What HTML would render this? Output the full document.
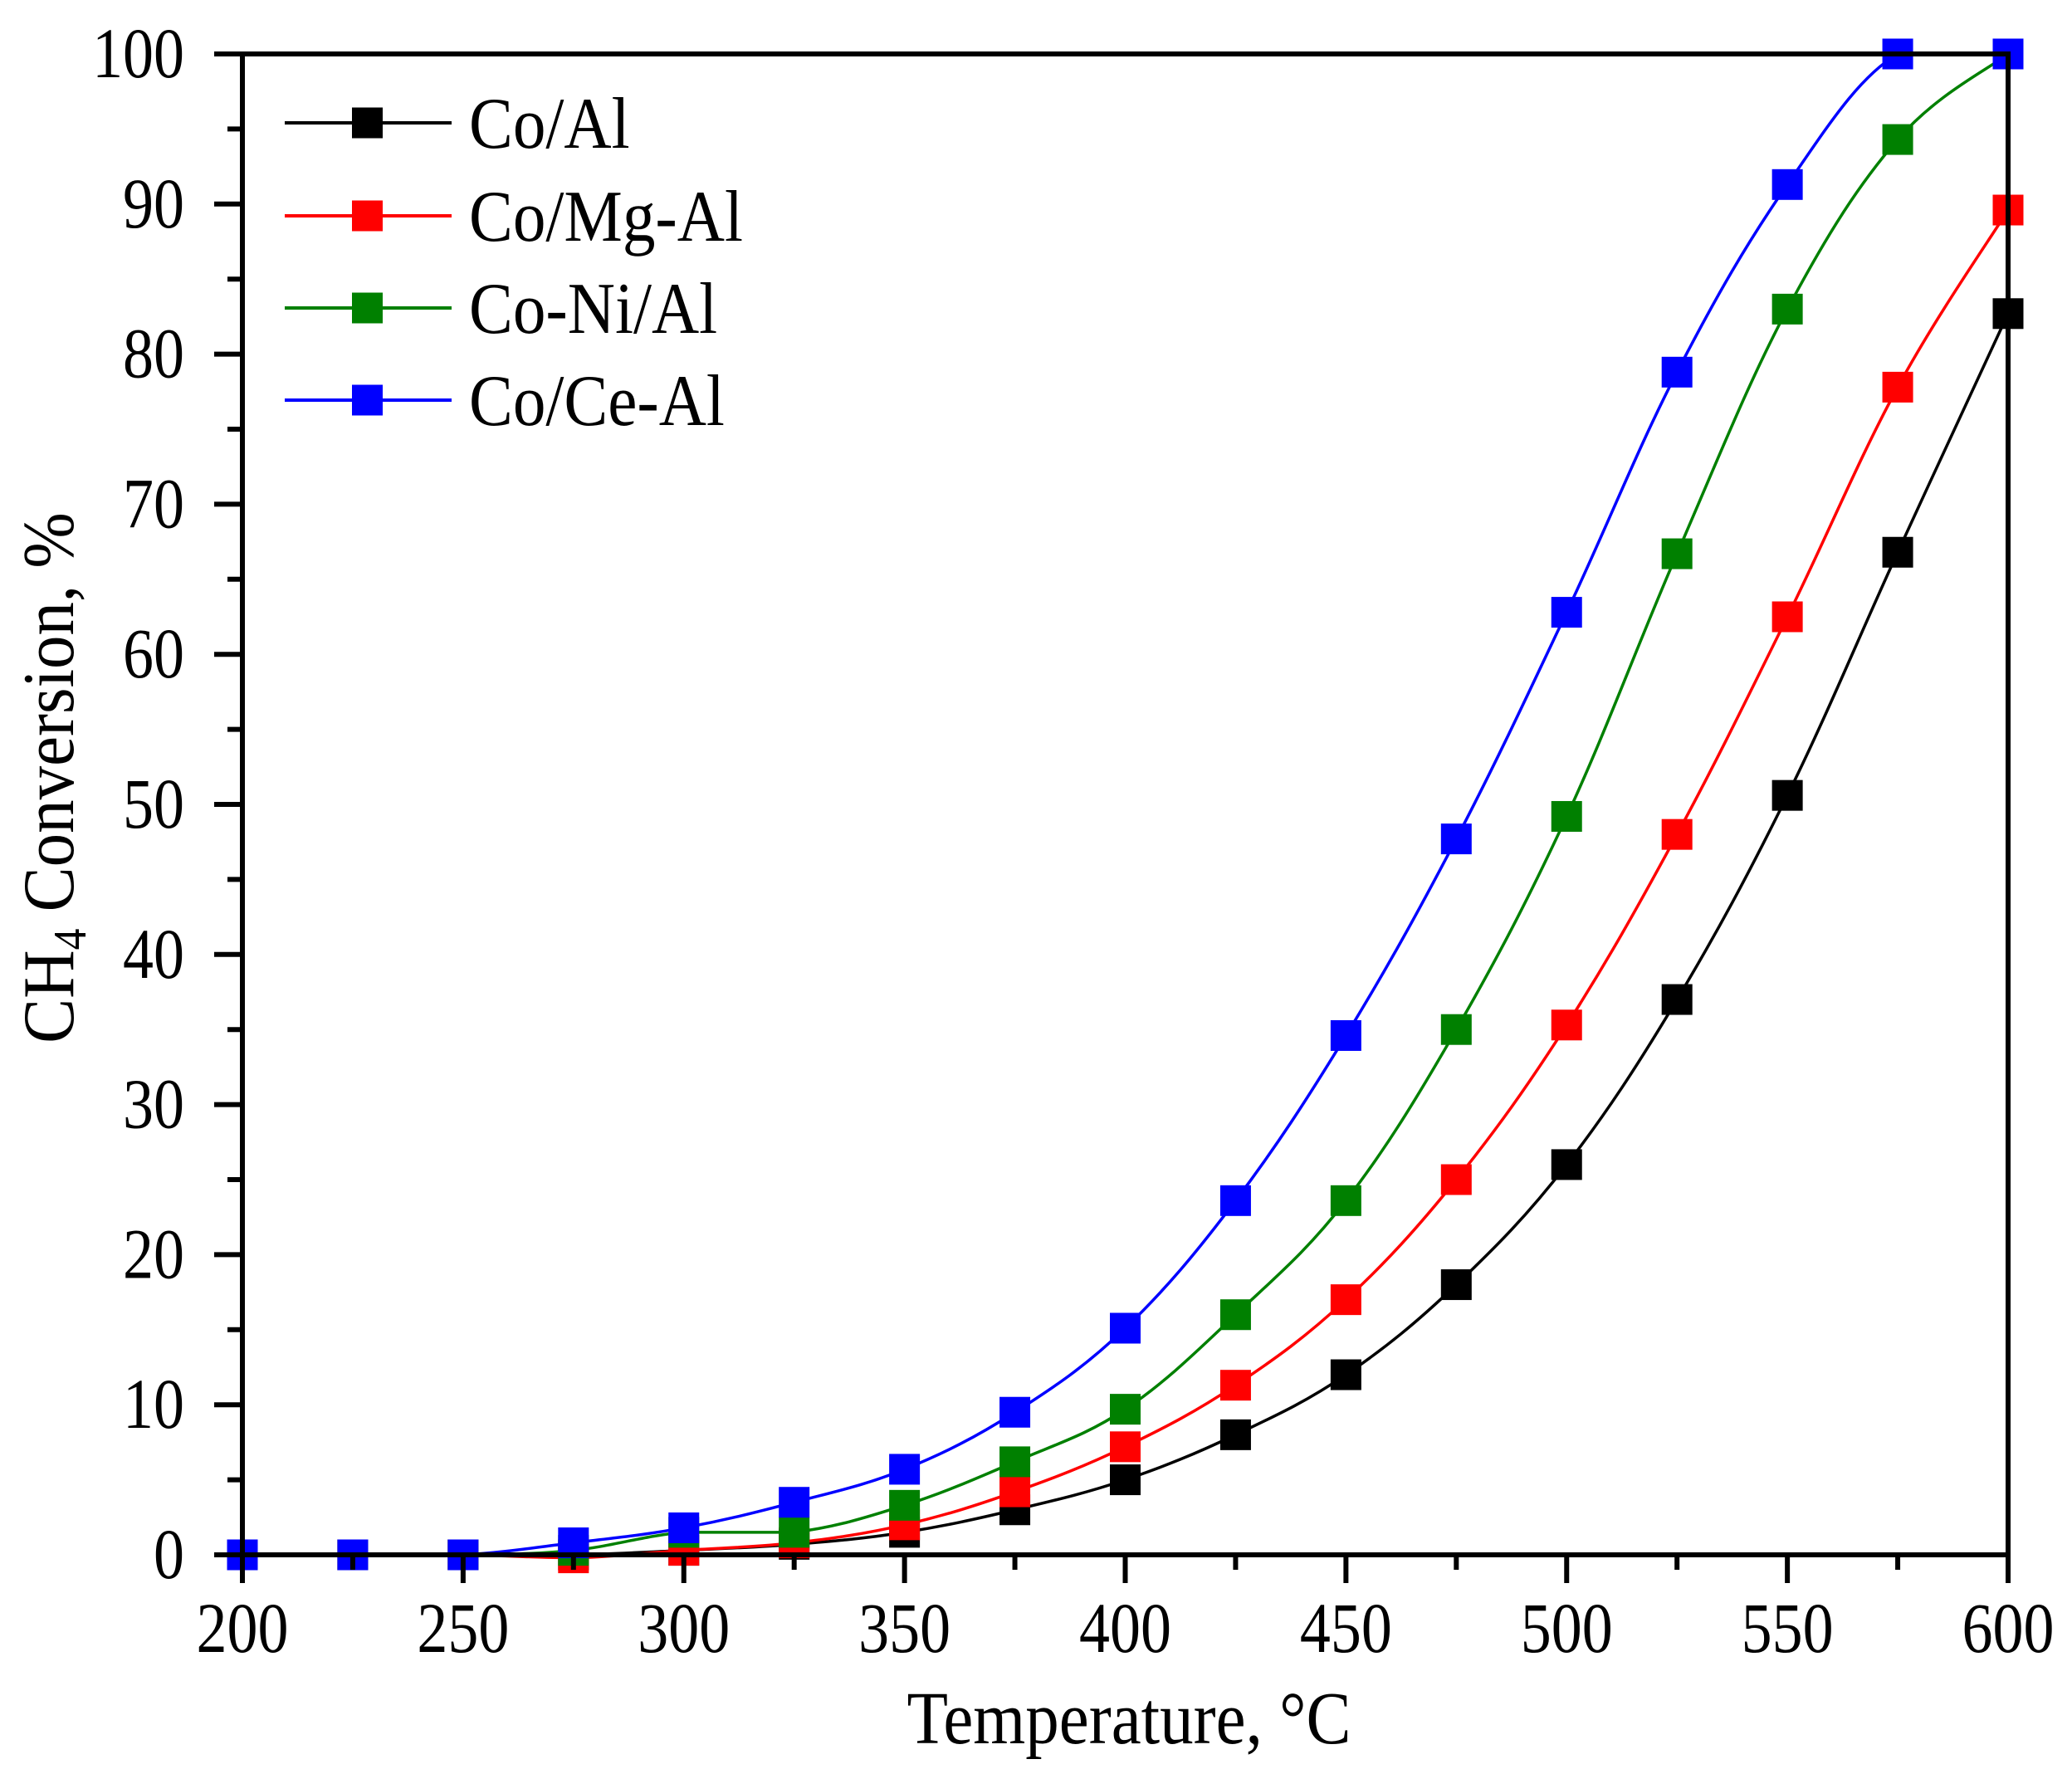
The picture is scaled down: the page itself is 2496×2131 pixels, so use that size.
<!DOCTYPE html>
<html><head><meta charset="utf-8"><style>
html,body{margin:0;padding:0;background:#fff;}
svg text{font-family:"Liberation Serif",serif;fill:#000;}
</style></head><body>
<svg id="s" width="2496" height="2126" viewBox="0 0 2496 2126" xmlns="http://www.w3.org/2000/svg"></svg>
<script>
const s=document.getElementById('s');
const R=2419;
const X=v=>292+(v-200)*(R-292)/400;
const Y=v=>1873-v*(1873-65)/100;
const T=(x,y,fs,sx,anchor,txt)=>`<text transform="translate(${x},${y}) scale(${sx},1)" font-size="${fs}" text-anchor="${anchor}">${txt}</text>`;
let h='';
const xs=[200,225,250,275,300,325,350,375,400,425,450,475,500,525,550,575,600];
const data=[
['#000',[0,0,0,0,0.3,0.7,1.5,3,5,8,12,18,26,37,50.6,66.8,82.7]],
['#f00',[0,0,0,-0.2,0.3,0.8,2,4.2,7.2,11.3,17,25,35.3,48,62.5,77.8,89.6]],
['#008000',[0,0,0,0.3,1.5,1.5,3.3,6.2,9.7,16,23.6,35,49.2,66.7,83,94.3,100]],
['#00f',[0,0,0,0.8,1.8,3.5,5.7,9.5,15.1,23.6,34.6,47.7,62.8,78.8,91.3,100,100]]];
const cl=(v,a,b)=>Math.max(Math.min(a,b),Math.min(Math.max(a,b),v));
for(const [c,ys] of data){
  const p=xs.map((x,i)=>[X(x),Y(ys[i])]);
  let d='M'+p[0][0]+','+p[0][1];
  for(let i=0;i<p.length-1;i++){
    const p0=p[Math.max(0,i-1)],p1=p[i],p2=p[i+1],p3=p[Math.min(p.length-1,i+2)];
    const t=0.18;
    const c1y=cl(p1[1]+(p2[1]-p0[1])*t,p1[1],p2[1]);
    const c2y=cl(p2[1]-(p3[1]-p1[1])*t,p1[1],p2[1]);
    d+=` C${p1[0]+(p2[0]-p0[0])*t},${c1y} ${p2[0]-(p3[0]-p1[0])*t},${c2y} ${p2[0]},${p2[1]}`;
  }
  h+=`<path d="${d}" fill="none" stroke="${c}" stroke-width="3.5"/>`;
  for(const q of p) h+=`<rect x="${q[0]-18.5}" y="${q[1]-18.5}" width="37" height="37" fill="${c}"/>`;
}
h+=`<rect x="292" y="65" width="${R-292}" height="1808" fill="none" stroke="#000" stroke-width="6"/>`;
for(let v=0;v<=100;v+=5){
  const y=Y(v),L=v%10==0?34:18;
  h+=`<line x1="${292-L}" y1="${y}" x2="292" y2="${y}" stroke="#000" stroke-width="6"/>`;
  if(v%10==0) h+=T(222,y+28,86,0.86,'end',v);
}
for(let v=200;v<=600;v+=25){
  const x=X(v),L=v%50==0?34:18;
  h+=`<line x1="${x}" y1="1873" x2="${x}" y2="${1873+L}" stroke="#000" stroke-width="6"/>`;
  if(v%50==0) h+=T(x,1990,86,0.86,'middle',v);
}
const names=['Co/Al','Co/Mg-Al','Co-Ni/Al','Co/Ce-Al'];
const ly=[148,260,371,482];
data.forEach(([c],i)=>{
  h+=`<line x1="343" y1="${ly[i]}" x2="544" y2="${ly[i]}" stroke="${c}" stroke-width="4"/>`;
  h+=`<rect x="424" y="${ly[i]-18.5}" width="37" height="37" fill="${c}"/>`;
  h+=T(565,ly[i]+30,88,0.9,'start',names[i]);
});
h+=T(1360,2100,90,0.9,'middle','Temperature, °C');
h+=`<text transform="translate(88,937) rotate(-90) scale(0.92,1)" font-size="88" text-anchor="middle">CH<tspan font-size="56" dy="15">4</tspan><tspan dy="-15"> Conversion, %</tspan></text>`;
s.innerHTML=h;
</script>
</body></html>
